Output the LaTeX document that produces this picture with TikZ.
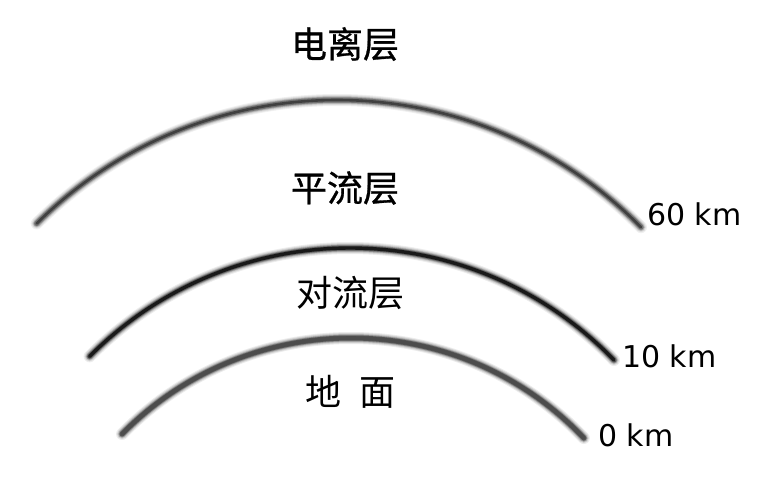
\documentclass[tikz,border=0pt]{standalone}
\usepackage{fontspec}
\setmainfont{DejaVu Sans}
\newfontfamily\cjk{Noto Sans CJK SC}
\newfontfamily\cjkheavy{Noto Sans CJK SC}[FakeBold=0.8]
\newcommand\glowarc[7]{%
  % #1 center, #2 radius, #3 start, #4 end, #5 core width, #6 core colour, #7 glow factor
  \foreach \w/\o in {12/0.06,10/0.08,8/0.12,6.5/0.18,5/0.28}{
    \draw[line width=\w pt, black, opacity=#7*\o, line cap=round]
      (#1) ++(#3:#2) arc[start angle=#3, end angle=#4, radius=#2];
  }
  \draw[line width=#5, #6, line cap=round]
      (#1) ++(#3:#2) arc[start angle=#3, end angle=#4, radius=#2];
}
\tikzset{
  layer/.style={font=\cjk\fontsize{36}{36}\selectfont, inner sep=0pt},
  layerheavy/.style={font=\cjkheavy\fontsize{36}{36}\selectfont, inner sep=0pt},
  height/.style={font=\fontsize{30}{30}\selectfont, anchor=west, inner sep=0pt},
}
\begin{document}
\begin{tikzpicture}[x=1pt,y=1pt]
  \useasboundingbox (0,0) rectangle (777,481);
  \fill[white] (0,0) rectangle (777,481);
  \coordinate (c60) at (337,-46);
  \coordinate (c10) at (350,-134);
  \coordinate (c0) at (351,-178);
  \glowarc{c60}{427}{134.7}{44.6}{2.6pt}{black!75}{1}
  \glowarc{c10}{367}{135.2}{44.0}{3.4pt}{black!90}{1.2}
  \glowarc{c0}{321}{135.5}{43.5}{3.6pt}{black!70}{1.3}
  \node[layerheavy] (ion) at (345,437) {电离层};
  \node[layerheavy] (strat) at (345,293) {平流层};
  \node[layer] (trop) at (350,188) {对流层};
  \node[layer] (ground) at (350,89) {地\hspace{0.5em}面};
  \node[height] (h60) at (647,267) {60 km};
  \node[height] (h10) at (622,125) {10 km};
  \node[height] (h0) at (598,46) {0 km};
\end{tikzpicture}
\end{document}
